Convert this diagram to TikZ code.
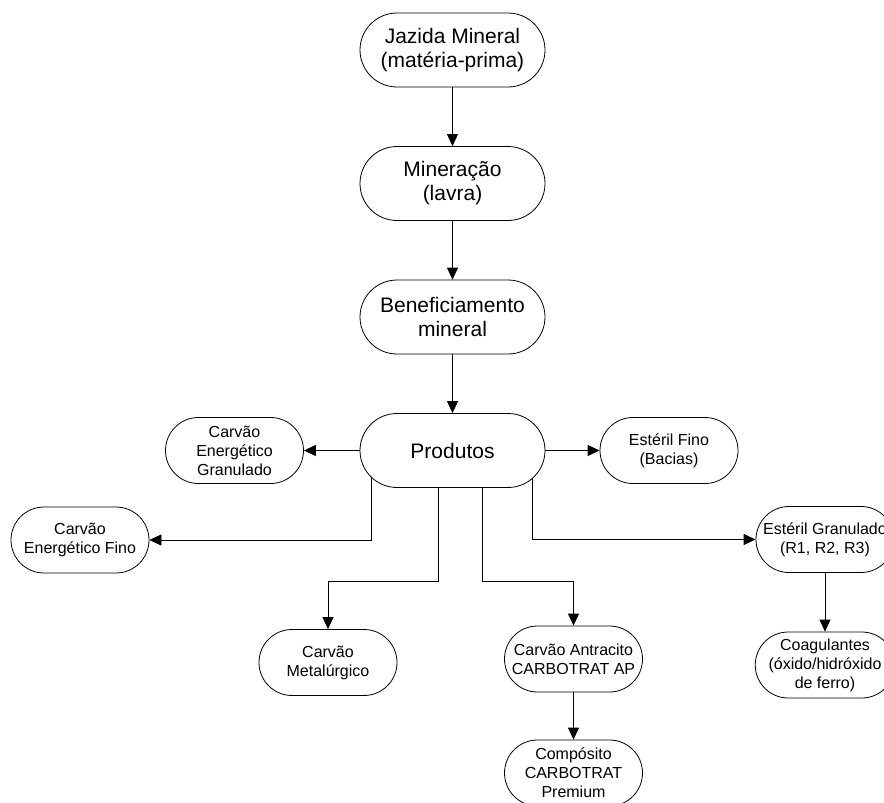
\documentclass[tikz,border=0pt]{standalone}
\usepackage{fontspec}
\setmainfont{Liberation Sans}
\usetikzlibrary{arrows.meta,backgrounds,shapes.misc}
\tikzset{
  big/.style={rounded rectangle, draw, line width=0.8pt, fill=white,
    minimum width=185pt, minimum height=74pt, align=center, inner sep=0pt,
    font=\fontsize{21}{24}\selectfont},
  small/.style={rounded rectangle, draw, line width=0.8pt, fill=white,
    minimum width=138pt, minimum height=66pt, align=center, inner sep=0pt,
    font=\fontsize{16}{19}\selectfont},
  arr/.style={line width=0.8pt, -{Triangle[length=12pt,width=11pt]}}
}
\begin{document}
\begin{tikzpicture}[x=1pt,y=-1pt]
\useasboundingbox (0,0) rectangle (884,803);
\clip (0,0) rectangle (884,803);
% main chain
\node[big] (jaz) at (452.5,50) {Jazida Mineral\\(matéria-prima)};
\node[big] (min) at (452.5,183.5) {Mineração\\(lavra)};
\node[big] (ben) at (452.5,317) {Beneficiamento\\mineral};
\node[big] (prod) at (452.5,450.5) {Produtos};
% products
\node[small] (gran) at (234.5,450.5) {Carvão\\Energético\\Granulado};
\node[small] (efino) at (669,450.5) {Estéril Fino\\(Bacias)};
\node[small] (fino) at (80,540) {Carvão\\Energético Fino};
\node[small] (egran) at (825,539.5) {Estéril Granulado\\(R1, R2, R3)};
\node[small] (met) at (328,662.5) {Carvão\\Metalúrgico};
\node[small] (ant) at (573.5,659) {Carvão Antracito\\CARBOTRAT AP};
\node[small] (comp) at (573.5,773) {Compósito\\CARBOTRAT\\Premium};
\node[small] (coag) at (825,665) {Coagulantes\\(óxido/hidróxido\\de ferro)};
% connectors
\draw[arr] (jaz.south) -- (min.north);
\draw[arr] (min.south) -- (ben.north);
\draw[arr] (ben.south) -- (prod.north);
\draw[arr] (prod.west) -- (gran.east);
\draw[arr] (prod.east) -- (efino.west);
\draw[arr] (ant.south) -- (comp.north);
\draw[arr] (egran.south) -- (coag.north);
\begin{scope}[on background layer]
\draw[arr] ([xshift=-81.5pt]prod.center) |- (fino.east);
\draw[arr] ([xshift=79.5pt]prod.center) |- (egran.west);
\draw[arr] ([xshift=-14.5pt]prod.center) -- ++(0,130.5) -| (met.north);
\draw[arr] ([xshift=29.5pt]prod.center) -- ++(0,130.5) -| (ant.north);
\end{scope}
\end{tikzpicture}
\end{document}
